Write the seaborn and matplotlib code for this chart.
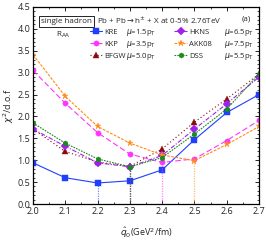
import numpy as np
import pandas as pd
import matplotlib
matplotlib.use("Agg")
import matplotlib.pyplot as plt
from matplotlib.ticker import MultipleLocator
import seaborn as sns

# ========== data ==========
qhat = [2.0, 2.1, 2.2, 2.3, 2.4, 2.5, 2.6, 2.7]
kre = [0.94, 0.60, 0.48, 0.53, 0.78, 1.47, 2.09, 2.50]
kkp = [3.05, 2.30, 1.63, 1.14, 0.95, 1.03, 1.45, 1.91]
bfgw = [1.71, 1.20, 0.96, 0.86, 1.26, 1.87, 2.40, 2.97]
hkns = [1.71, 1.32, 0.94, 0.85, 1.11, 1.71, 2.29, 2.90]
akk08 = [3.41, 2.46, 1.77, 1.39, 1.12, 0.99, 1.36, 1.77]
dss = [1.85, 1.39, 1.03, 0.85, 1.06, 1.60, 2.17, 2.97]

names = ["KRE", "KKP", "BFGW", "HKNS", "AKK08", "DSS"]
scales = ["1.5", "3.5", "5.0", "6.5", "7.5", "5.5"]
values = [kre, kkp, bfgw, hkns, akk08, dss]

colors = ["#1f3fff", "#ff33ff", "#8b0a0a", "#a020f0", "#ff8c1a", "#1a8c1a"]
markers = ["s", "o", "^", "D", "*", "h"]
styles = ["-", (0, (5, 2.5)), (0, (1, 2.2)), (0, (4, 1.5, 1, 1.5)), (0, (2.5, 1.2)), (0, (1.5, 1))]

sns.set_style("ticks")
plt.rcParams["font.family"] = ["Open Sans", "DejaVu Sans"]
plt.rcParams["mathtext.fontset"] = "dejavusans"

fig, ax = plt.subplots(figsize=(2.66, 2.40), dpi=100)
fig.subplots_adjust(left=0.124, right=0.974, top=0.971, bottom=0.15)

for name, vals, c, m, ls in zip(names, values, colors, markers, styles):
    df = pd.DataFrame({"q": qhat, "chi": vals})
    sns.lineplot(data=df, x="q", y="chi", ax=ax, color=c, marker=m,
                 markersize=3.8 if m != "*" else 5, markeredgewidth=0.3,
                 markeredgecolor=c, linewidth=0.8, linestyle=ls, label=name)
    # dotted drop line at the minimum
    i = int(np.argmin(vals))
    ax.vlines(qhat[i], 0, vals[i], colors=c, linestyles=(0, (1, 1)), linewidth=0.9, alpha=0.6)

ax.set_xlim(2.0, 2.7)
ax.set_ylim(0, 4.5)
ax.xaxis.set_major_locator(MultipleLocator(0.1))
ax.xaxis.set_minor_locator(MultipleLocator(0.05))
ax.yaxis.set_major_locator(MultipleLocator(0.5))
ax.yaxis.set_minor_locator(MultipleLocator(0.1))
ax.tick_params(which="both", direction="in", top=True, right=True, labelsize=6.5, pad=2)
ax.tick_params(which="major", length=3, width=0.7)
ax.tick_params(which="minor", length=1.5, width=0.6)
for s in ax.spines.values():
    s.set_linewidth(0.9)
    s.set_color("black")

ax.set_xlabel(r"$\hat{q}_0$(GeV$^2$/fm)", fontsize=6.5, labelpad=7)
ax.set_ylabel(r"$\chi^2$/d.o.f", fontsize=6.5, labelpad=1)

# two legend columns, mu values as separate text
handles, labels = ax.get_legend_handles_labels()
leg_kw = dict(loc="upper left", frameon=False, fontsize=5.5, handlelength=1.7,
              handletextpad=0.25, labelspacing=0.6, borderaxespad=0, borderpad=0)
leg1 = ax.legend(handles[:3], labels[:3], bbox_to_anchor=(0.25, 0.89), **leg_kw)
ax.add_artist(leg1)
leg2 = ax.legend(handles[3:], labels[3:], bbox_to_anchor=(0.625, 0.89), **leg_kw)
ax.figure.canvas.draw()
texts = list(leg1.get_texts()) + list(leg2.get_texts())
for k, (txt, sc) in enumerate(zip(texts, scales)):
    bb = txt.get_window_extent().transformed(ax.transAxes.inverted())
    ymid = (bb.y0 + bb.y1) / 2
    xoff = 0.41 if k < 3 else 0.845
    ax.text(xoff, ymid, r"$\mu$=" + sc + r"p$_{\rm T}$", transform=ax.transAxes,
            fontsize=5.5, va="center", ha="left")

ax.text(0.283, 0.935, r"Pb + Pb$\rightarrow$h$^{\pm}$ + X at 0-5% 2.76TeV",
        transform=ax.transAxes, fontsize=5.8, va="center", ha="left")
ax.text(0.965, 0.94, "(a)", transform=ax.transAxes, fontsize=5.8, va="center", ha="right")
ax.text(0.035, 0.925, "single hadron", transform=ax.transAxes, fontsize=5.8, va="center",
        ha="left", bbox=dict(boxstyle="square,pad=0.25", fc="white", ec="black", lw=0.6))
ax.text(0.1, 0.86, r"R$_{\rm AA}$", transform=ax.transAxes, fontsize=5.8, va="center", ha="left")

plt.savefig("out.png", dpi=100)
